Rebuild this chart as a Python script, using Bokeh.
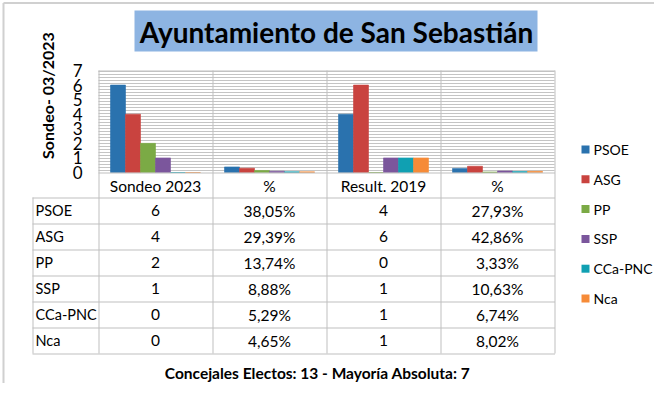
from math import pi
from bokeh.plotting import figure
from bokeh.models import Range1d
from bokeh.core.properties import value
from bokeh.embed import file_html
from bokeh.resources import INLINE

# ---------------- data ----------------
title = "Ayuntamiento de San Sebastián"
y_label = "Sondeo- 03/2023"
footer = "Concejales Electos: 13 - Mayoría Absoluta: 7"
categories = ["Sondeo 2023", "%", "Result. 2019", "%"]
parties = ["PSOE", "ASG", "PP", "SSP", "CCa-PNC", "Nca"]
party_colors = ["#2A72AE", "#C9433F", "#7BAA45", "#7B569C", "#10A0B2", "#F68B38"]
sondeo_2023 = [6, 4, 2, 1, 0, 0]
sondeo_pct = [38.05, 29.39, 13.74, 8.88, 5.29, 4.65]
result_2019 = [4, 6, 0, 1, 1, 1]
result_pct = [27.93, 42.86, 3.33, 10.63, 6.74, 8.02]
y_ticks = [0, 1, 2, 3, 4, 5, 6, 7]

# ---------------- layout (page pixel coordinates) ----------------
FONT = value("Lato")
W, H = 654, 383
X0, Y0 = 0, 0
PL, PR, PT, PB = 98, 554, 70, 172  # plot area
CW = (PR - PL) / len(categories)   # category width
YMAX = 7
unit = (PB - PT) / YMAX
ROW_H = 26
HDR_B = 197
TBL_L = 32
BAR_W = 15
BAR_OFF = 12

p = figure(width=W, height=H, output_backend="svg", toolbar_location=None,
           x_range=Range1d(X0, X0 + W), y_range=Range1d(Y0 + H, Y0),
           x_axis_type=None, y_axis_type=None, min_border=0,
           outline_line_color=None)
p.grid.visible = False
p.background_fill_color = "white"
p.border_fill_color = "white"

# data scales mapped onto the plot area
p.extra_y_ranges = {"n": Range1d(start=-(Y0 + H - PB) / unit, end=(PB - Y0) / unit)}
p.extra_x_ranges = {"c": Range1d(start=(X0 - PL) / CW, end=(X0 + W - PL) / CW)}

# outer chart border (left/top visible part)
p.segment(x0=[3, 3], y0=[2.5, 2.5], x1=[3, W], y1=[H, 2.5], line_color="#D0D0D0", line_width=2)

# title box
p.quad(left=[134], right=[537], top=[10], bottom=[51], fill_color="#8DB4E2", line_color=None)
p.text(x=[336], y=[31], text=[title], text_font=FONT, text_font_style="bold",
       text_font_size="28px", text_align="center", text_baseline="middle", text_color="black")

# hatched plot background
p.quad(left=[PL], right=[PR], top=[PT], bottom=[PB], fill_color="white", line_color=None,
       hatch_pattern="horizontal_line", hatch_color="#C4C4C4", hatch_scale=3, hatch_weight=1)

# bars
series_by_cat = [sondeo_2023, [v / 100 for v in sondeo_pct], result_2019, [v / 100 for v in result_pct]]
for k, (party, col) in enumerate(zip(parties, party_colors)):
    xs = [ci + (BAR_OFF + BAR_W * k + BAR_W / 2) / CW for ci in range(len(categories))]
    tops = [vals[k] for vals in series_by_cat]
    p.vbar(x=xs, top=tops, bottom=0, width=BAR_W / CW, fill_color=col, line_color=col,
           line_width=0.6, x_range_name="c", y_range_name="n")

# grid / table lines
n_rows = len(parties)
tbl_bottom = HDR_B + ROW_H * n_rows
vx = [PL + CW * i + 0.5 for i in range(len(categories) + 1)]
x0s = vx + [TBL_L + 0.5]
x1s = vx + [TBL_L + 0.5]
y0s = [PT] * len(vx) + [HDR_B]
y1s = [tbl_bottom] * len(vx) + [tbl_bottom]
hy = [PT + 0.5, PB + 0.5] + [HDR_B + ROW_H * r + 0.5 for r in range(n_rows + 1)]
hx0 = [PL, PL] + [TBL_L] * (n_rows + 1)
p.segment(x0=x0s + hx0, y0=y0s + hy, x1=x1s + [PR + 0.5] * len(hy), y1=y1s + hy,
          line_color="#BFBFBF", line_width=1)

# y tick labels and label
p.text(x=[82] * len(y_ticks), y=y_ticks, text=[str(t) for t in y_ticks], y_range_name="n",
       text_font=FONT, text_font_size="17px", text_align="right", text_baseline="middle",
       text_color="black")
p.text(x=[47], y=[95], text=[y_label], angle=pi / 2, text_font=FONT, text_font_style="bold",
       text_font_size="16px", text_align="center", text_baseline="middle", text_color="black")

# category labels
p.text(x=[i + 0.5 for i in range(len(categories))], y=[185] * len(categories), text=categories,
       x_range_name="c", text_font=FONT, text_font_size="15.5px", text_align="center",
       text_baseline="middle", text_color="black")

# table contents
row_y = [HDR_B + ROW_H * r + ROW_H / 2 for r in range(n_rows)]
p.text(x=[TBL_L + 3] * n_rows, y=row_y, text=parties, text_font=FONT, text_font_size="14.5px",
       text_align="left", text_baseline="middle", text_color="black")

def pct(v):
    return f"{v:.2f}".replace(".", ",") + "%"

columns = [[str(v) for v in sondeo_2023], [pct(v) for v in sondeo_pct],
           [str(v) for v in result_2019], [pct(v) for v in result_pct]]
for ci, col in enumerate(columns):
    p.text(x=[ci + 0.5] * n_rows, y=row_y, text=col, x_range_name="c", text_font=FONT,
           text_font_size="15.5px", text_align="center", text_baseline="middle", text_color="black")

# legend
leg_y = [149 + 29.8 * k for k in range(len(parties))]
p.rect(x=[585] * len(parties), y=leg_y, width=8, height=8, fill_color=party_colors, line_color=None)
p.text(x=[593] * len(parties), y=leg_y, text=parties, text_font=FONT, text_font_size="14px",
       text_align="left", text_baseline="middle", text_color="black")

# footer
p.text(x=[317], y=[372], text=[footer], text_font=FONT, text_font_style="bold",
       text_font_size="15.5px", text_align="center", text_baseline="middle", text_color="black")

open("out.html", "w").write(file_html(p, INLINE))
